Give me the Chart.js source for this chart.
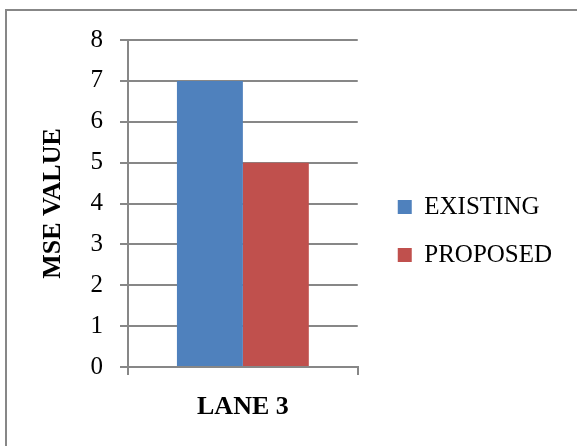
<!DOCTYPE html>
<html>
<head>
<meta charset="utf-8">
<script src="https://cdn.jsdelivr.net/npm/chart.js@4.4.1/dist/chart.umd.min.js"></script>
<style>
    html, body { margin: 0; padding: 0; background: #fff; overflow: hidden; }
    .frame {
        position: absolute; left: 5px; top: 9px;
        width: 640px; height: 500px;
        border: 2px solid #878787;
    }
    #mseChart { position: absolute; left: 0; top: 0; }
</style>
</head>
<body>
<div class="frame"></div>
<canvas id="mseChart" width="577" height="446"></canvas>
<script>
// MSE per lane
const lanes = ['LANE 3'];
const existingMse = [7];
const proposedMse = [5];
const yMin = 0;
const yMax = 8;

const gridGray = '#878787';
const serif = "'Liberation Serif', 'Times New Roman', serif";

// legend sits a bit right of the plot and may use the rest of the width
const legendGap = {
    id: 'legendGap',
    afterLayout(chart) {
        const lg = chart.legend;
        lg.left = chart.chartArea.right + 17;
        lg.right = chart.width;
        lg.width = lg.right - lg.left;
    }
};

const ctx = document.getElementById('mseChart').getContext('2d');
new Chart(ctx, {
    type: 'bar',
    data: {
        labels: lanes,
        datasets: [{
            label: 'EXISTING',
            data: existingMse,
            backgroundColor: '#4F81BD',
            barPercentage: 1,
            categoryPercentage: 0.574
        }, {
            label: 'PROPOSED',
            data: proposedMse,
            backgroundColor: '#C0504D',
            barPercentage: 1,
            categoryPercentage: 0.574
        }]
    },
    options: {
        responsive: false,
        animation: false,
        layout: {
            padding: { top: 40, bottom: 24, left: 0, right: 100 }
        },
        plugins: {
            tooltip: { enabled: false },
            legend: {
                position: 'right',
                labels: {
                    boxWidth: 14,
                    boxHeight: 14,
                    padding: 23,
                    color: '#000',
                    font: { family: serif, size: 25 }
                }
            }
        },
        scales: {
            x: {
                offset: true,
                afterFit: function (scale) { scale.height = 55; },
                grid: {
                    offset: true,
                    drawOnChartArea: false,
                    drawTicks: true,
                    tickLength: 8,
                    color: gridGray,
                    lineWidth: 2
                },
                border: { color: gridGray, width: 2 },
                ticks: {
                    padding: 17,
                    color: '#000',
                    font: { family: serif, size: 26, weight: 'bold' }
                }
            },
            y: {
                min: yMin,
                max: yMax,
                afterFit: function (scale) { scale.width = 128; },
                grid: {
                    color: gridGray,
                    lineWidth: 2,
                    drawTicks: true,
                    tickLength: 8
                },
                border: { color: gridGray, width: 2 },
                ticks: {
                    stepSize: 1,
                    padding: 17,
                    color: '#000',
                    font: { family: serif, size: 25 }
                },
                title: {
                    display: true,
                    text: 'MSE VALUE',
                    color: '#000',
                    padding: { top: 38, bottom: 0 },
                    font: { family: serif, size: 26, weight: 'bold' }
                }
            }
        }
    },
    plugins: [legendGap]
});
</script>
</body>
</html>
